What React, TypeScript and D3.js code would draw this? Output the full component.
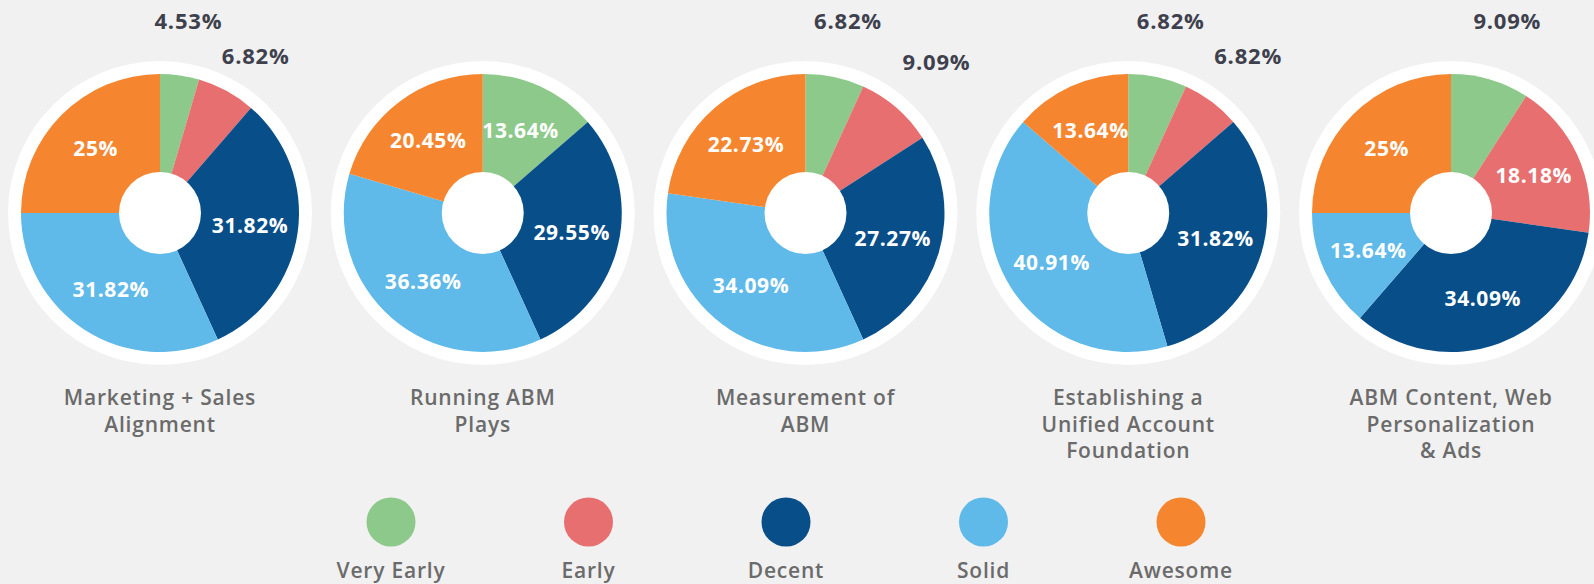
import { useEffect, useRef } from "react";
import * as d3 from "d3";

// maturity stages and their colours
const stages = ["Very Early", "Early", "Decent", "Solid", "Awesome"];
const stageColors = ["#8dc98a", "#e76f6f", "#084e88", "#5fb9e9", "#f5862f"];

// one pie per capability
const categories = [
  "Marketing + Sales Alignment",
  "Running ABM Plays",
  "Measurement of ABM",
  "Establishing a Unified Account Foundation",
  "ABM Content, Web Personalization & Ads",
];
const titleLines = [
  ["Marketing + Sales", "Alignment"],
  ["Running ABM", "Plays"],
  ["Measurement of", "ABM"],
  ["Establishing a", "Unified Account", "Foundation"],
  ["ABM Content, Web", "Personalization", "& Ads"],
];

// share of respondents (%) per stage, one value per category
const veryEarly = [4.53, 13.64, 6.82, 6.82, 9.09];
const early = [6.82, 0, 9.09, 6.82, 18.18];
const decent = [31.82, 29.55, 27.27, 31.82, 34.09];
const solid = [31.82, 36.36, 34.09, 40.91, 13.64];
const awesome = [25, 20.45, 22.73, 13.64, 25];

const series = [veryEarly, early, decent, solid, awesome];

const W = 1594;
const H = 584;
const FONT = "'Open Sans', sans-serif";

export default function App() {
  const ref = useRef<SVGSVGElement | null>(null);

  useEffect(() => {
    const svg = d3.select(ref.current);
    svg.selectAll("*").remove();

    svg.append("rect").attr("width", W).attr("height", H).attr("fill", "#f1f1f1");

    const x = d3.scalePoint<string>().domain(categories).range([160, 1451]);
    const cy = 213;
    const radius = 139;
    const ringRadius = 152;
    const holeRadius = 41;

    const color = d3.scaleOrdinal<string, string>().domain(stages).range(stageColors);

    const pie = d3
      .pie<{ stage: string; value: number }>()
      .value((d) => d.value)
      .sort(null);
    const arc = d3
      .arc<d3.PieArcDatum<{ stage: string; value: number }>>()
      .innerRadius(0)
      .outerRadius(radius);

    categories.forEach((cat, ci) => {
      const cx = x(cat) as number;
      const data = stages.map((s, si) => ({ stage: s, value: series[si][ci] }));
      const arcs = pie(data);

      const g = svg.append("g").attr("transform", `translate(${cx},${cy})`);

      g.append("circle").attr("r", ringRadius).attr("fill", "#ffffff");

      g.selectAll("path.slice")
        .data(arcs.filter((d) => d.data.value > 0))
        .enter()
        .append("path")
        .attr("class", "slice")
        .attr("d", arc)
        .attr("fill", (d) => color(d.data.stage));

      g.append("circle").attr("r", holeRadius).attr("fill", "#ffffff");

      // inside labels
      const inside = arcs.filter((d) => d.data.value >= 10);
      g.selectAll("text.inside")
        .data(inside)
        .enter()
        .append("text")
        .attr("class", "inside")
        .attr("x", (d) => 91 * Math.sin((d.startAngle + d.endAngle) / 2))
        .attr("y", (d) => -91 * Math.cos((d.startAngle + d.endAngle) / 2))
        .attr("dy", "0.36em")
        .attr("text-anchor", "middle")
        .style("font-family", FONT)
        .style("font-weight", 700)
        .style("font-size", "21px")
        .style("letter-spacing", "0.6px")
        .style("fill", "#ffffff")
        .text((d) => `${d.data.value}%`);

      // outside labels for small slices, pushed apart like the original
      const outside = arcs.filter((d) => d.data.value > 0 && d.data.value < 10);
      let prevY = -Infinity;
      const topY = 21 - cy;
      outside.forEach((d) => {
        const a = (d.startAngle + d.endAngle) / 2;
        const lx = 200 * Math.sin(a);
        let ly = -200 * Math.cos(a);
        ly = Math.max(ly, topY, prevY + 35);
        prevY = ly;
        g.append("text")
          .attr("x", lx)
          .attr("y", ly)
          .attr("dy", "0.36em")
          .attr("text-anchor", "middle")
          .style("font-family", FONT)
          .style("font-weight", 700)
          .style("font-size", "22px")
          .style("letter-spacing", "0.8px")
          .style("fill", "#3e414d")
          .text(`${d.data.value}%`);
      });

      // title under the pie
      const title = g
        .append("text")
        .attr("text-anchor", "middle")
        .style("font-family", FONT)
        .style("font-weight", 600)
        .style("font-size", "21px")
        .style("letter-spacing", "0.8px")
        .style("fill", "#6b6b6b");
      titleLines[ci].forEach((line, li) => {
        title
          .append("tspan")
          .attr("x", 0)
          .attr("y", 405 - cy + li * 26.5)
          .text(line);
      });
    });

    // legend
    const lx = d3.scalePoint<string>().domain(stages).range([391, 1181]);
    const legend = svg
      .selectAll("g.legend")
      .data(stages)
      .enter()
      .append("g")
      .attr("class", "legend")
      .attr("transform", (d) => `translate(${lx(d)},0)`);

    legend
      .append("circle")
      .attr("cy", 522)
      .attr("r", 24.5)
      .attr("fill", (d) => color(d));

    legend
      .append("text")
      .attr("y", 578)
      .attr("text-anchor", "middle")
      .style("font-family", FONT)
      .style("font-weight", 600)
      .style("font-size", "21px")
      .style("letter-spacing", "0.8px")
      .style("fill", "#6b6b6b")
      .text((d) => d);
  }, []);

  return (
    <svg
      ref={ref}
      width={W}
      height={H}
      style={{ position: "absolute", left: 0, top: 0, display: "block" }}
    />
  );
}
